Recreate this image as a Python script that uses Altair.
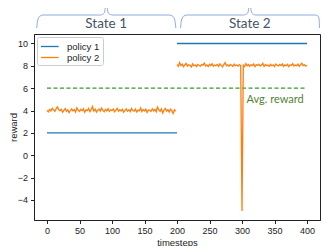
import altair as alt
import pandas as pd

# ---------------- data ----------------
series_names = ["policy 1", "policy 2"]
series_colors = ["#1f77b4", "#ff7f0e"]

p1_x_s1 = [0, 200]
p1_y_s1 = [2, 2]
p1_x_s2 = [200, 400]
p1_y_s2 = [10, 10]

p2_x_s1 = list(range(0, 200, 2))
p2_y_s1 = [
    4.02, 3.88, 4.10, 3.95, 4.21, 4.05, 3.92, 4.15, 4.33, 4.08,
    3.97, 4.12, 3.85, 4.02, 4.18, 3.93, 4.06, 3.81, 4.00, 4.14,
    3.96, 4.09, 3.87, 4.24, 4.03, 3.91, 4.11, 3.98, 4.16, 3.84,
    4.05, 3.99, 4.19, 3.90, 4.07, 4.36, 3.95, 4.12, 3.86, 4.04,
    4.13, 3.94, 4.22, 4.01, 3.89, 4.10, 3.97, 4.17, 3.92, 4.06,
    3.99, 4.14, 3.88, 4.03, 4.20, 3.93, 4.08, 3.96, 4.11, 3.85,
    4.02, 4.15, 3.94, 4.07, 3.90, 4.18, 4.00, 3.95, 4.12, 3.87,
    4.04, 3.98, 4.23, 3.91, 4.09, 3.96, 4.13, 3.83, 4.05, 4.01,
    3.93, 4.16, 3.97, 4.10, 3.89, 4.31, 4.06, 3.92, 4.14, 3.78,
    4.03, 4.19, 3.95, 4.08, 3.86, 4.12, 3.99, 3.74, 4.07, 3.94,
]

p2_x_s2 = list(range(200, 401, 2))
p2_y_s2 = [
    8.12, 7.95, 8.30, 8.02, 8.15, 7.92, 8.08, 8.21, 7.98, 8.10,
    8.04, 7.90, 8.17, 8.00, 8.09, 7.94, 8.13, 8.03, 7.97, 8.11,
    8.06, 8.25, 7.99, 8.08, 7.93, 8.14, 8.02, 8.19, 7.96, 8.07,
    8.01, 8.12, 7.95, 8.18, 8.04, 7.91, 8.10, 8.28, 8.00, 8.09,
    7.97, 8.13, 8.05, 7.94, 8.16, 8.02, 8.08, 7.98, 8.11, 8.03,
    -5.00,
    8.06, 7.93, 8.20, 8.01, 8.12, 7.96, 8.09, 8.04, 8.17, 7.92,
    8.10, 8.03, 8.15, 7.98, 8.07, 8.22, 7.95, 8.11, 8.02, 8.08,
    7.97, 8.14, 8.00, 8.09, 7.93, 8.16, 8.05, 7.99, 8.12, 8.03,
    8.18, 7.96, 8.08, 8.01, 8.13, 7.94, 8.10, 8.04, 8.19, 7.98,
    8.07, 8.02, 8.15, 7.95, 8.09, 8.24, 8.01, 8.11, 7.97, 8.06,
]

avg_x = [0, 400]
avg_y = [6, 6]
avg_label = "Avg. reward"
avg_label_pos = [307, 4.95]

state_labels = ["State 1", "State 2"]
state_label_x = [91, 312]
state_label_y = [11.75, 11.75]

# brace outlines (in data units: timesteps / reward)
brace1_x = [-15.8, -14.6, -11.5, -6.1, 81.9, 88.1, 91.2, 94.3, 100.4, 188.4, 193.8, 196.9, 198.2]
brace2_x = [205.4, 206.6, 209.7, 215.1, 302.7, 308.9, 312.0, 315.0, 321.2, 412.3, 417.7, 418.8, 419.2]
brace_y = [11.39, 12.01, 12.42, 12.55, 12.55, 12.73, 13.6, 12.73, 12.55, 12.55, 12.42, 12.01, 11.39]

x_ticks = [0, 50, 100, 150, 200, 250, 300, 350, 400]
y_ticks = [-4, -2, 0, 2, 4, 6, 8, 10]

# ---------------- tables ----------------
rows = []
for x, y in zip(p1_x_s1, p1_y_s1):
    rows.append({"x": x, "y": y, "series": "policy 1", "seg": "p1a"})
for x, y in zip(p1_x_s2, p1_y_s2):
    rows.append({"x": x, "y": y, "series": "policy 1", "seg": "p1b"})
for x, y in zip(p2_x_s1, p2_y_s1):
    rows.append({"x": x, "y": y, "series": "policy 2", "seg": "p2a"})
for x, y in zip(p2_x_s2, p2_y_s2):
    rows.append({"x": x, "y": y, "series": "policy 2", "seg": "p2b"})
lines_df = pd.DataFrame(rows)

avg_df = pd.DataFrame({"x": avg_x, "y": avg_y})
avg_text_df = pd.DataFrame({"x": [avg_label_pos[0]], "y": [avg_label_pos[1]], "t": [avg_label]})
state_df = pd.DataFrame({"x": state_label_x, "y": state_label_y, "t": state_labels})
brace_rows = []
for bx, name in [(brace1_x, "b1"), (brace2_x, "b2")]:
    for j, (x, y) in enumerate(zip(bx, brace_y)):
        brace_rows.append({"x": x, "y": y, "b": name, "o": j})
brace_df = pd.DataFrame(brace_rows)

FONT = "Liberation Sans"

xscale = alt.Scale(domain=[-20, 420], nice=False, zero=False)
yscale = alt.Scale(domain=[-5.8, 10.85], nice=False, zero=False)

X = alt.X("x:Q", scale=xscale,
          axis=alt.Axis(values=x_ticks, title="timesteps", labelPadding=2.5, titlePadding=2))
Y = alt.Y("y:Q", scale=yscale,
          axis=alt.Axis(values=y_ticks, title="reward", labelPadding=3,
                        titleAngle=270, titleBaseline="top", titleAlign="center",
                        titleX=-26, titleY=93))

avg_line = alt.Chart(avg_df).mark_line(
    color="#2ca02c", strokeDash=[4, 2.5], strokeWidth=1.2
).encode(x=X, y=Y)

lines = alt.Chart(lines_df).mark_line(strokeWidth=1.3).encode(
    x=X, y=Y,
    color=alt.Color("series:N",
                    scale=alt.Scale(domain=series_names, range=series_colors),
                    legend=alt.Legend(title=None, orient="top-left", offset=3,
                                      symbolType="M-1,0H2.2", symbolSize=121,
                                      symbolStrokeWidth=1.3, labelFontSize=9.5,
                                      labelFont=FONT, labelColor="#222",
                                      padding=3, strokeColor="#cccccc",
                                      fillColor="white", cornerRadius=2,
                                      rowPadding=0, labelOffset=14)),
    detail="seg:N",
)

avg_text = alt.Chart(avg_text_df).mark_text(
    align="left", baseline="middle", fontSize=11, font="Lato", color="#548235"
).encode(x=X, y=Y, text="t:N")

braces = alt.Chart(brace_df).mark_line(
    clip=False, color="#8faadc", strokeWidth=1, interpolate="monotone"
).encode(x=X, y=Y, detail="b:N", order="o:Q")

state_text = alt.Chart(state_df).mark_text(
    align="center", baseline="middle", fontSize=13.5, font="Lato", color="#44546a"
).encode(x=X, y=Y, text="t:N")

chart = alt.layer(avg_line, lines, avg_text, braces, state_text).properties(
    width=286, height=186,
    padding={"left": 26, "top": 26, "right": 3, "bottom": 26},
    autosize=alt.AutoSizeParams(type="none"),
).configure_view(stroke="#222", strokeWidth=1).configure_axis(
    grid=False, domainColor="#222", tickColor="#222", tickSize=3.5,
    labelFont=FONT, labelFontSize=9, labelColor="#222",
    titleFont=FONT, titleFontSize=9.5, titleFontWeight="normal", titleColor="#222",
)

chart.save("out.html", embed_options={"renderer": "svg", "actions": False})
